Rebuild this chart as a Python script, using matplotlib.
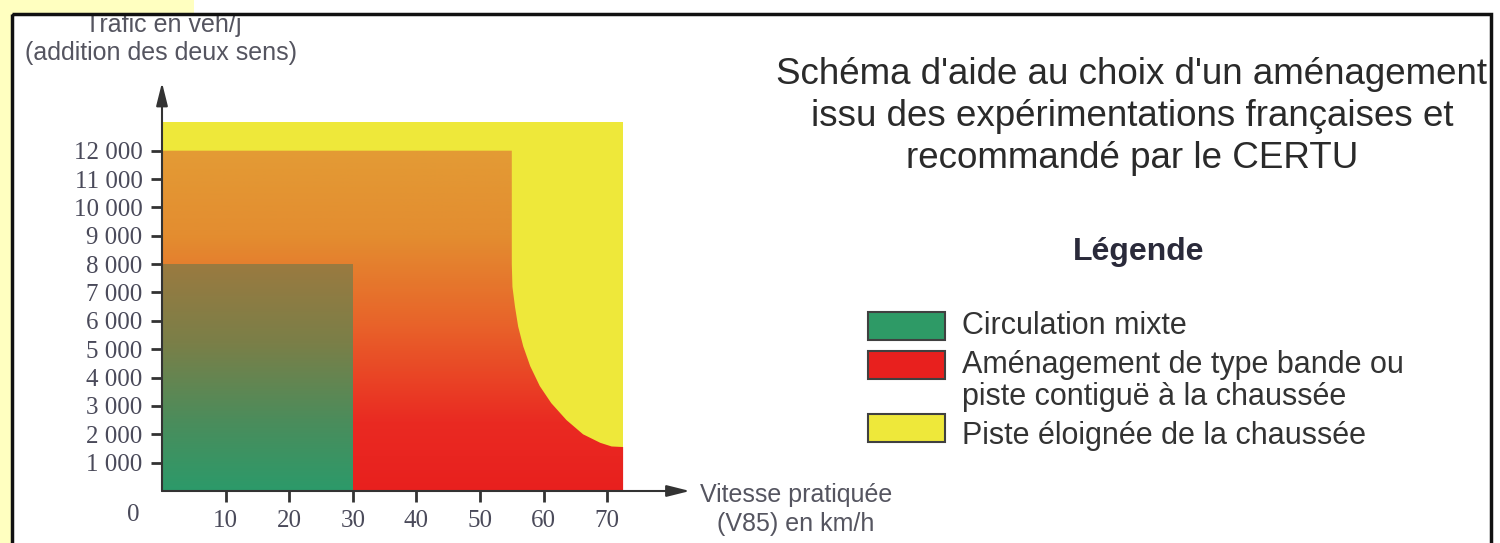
import matplotlib.pyplot as plt
import numpy as np
from matplotlib.colors import LinearSegmentedColormap
from matplotlib.patches import Rectangle, Polygon

# values
speed_ticks = [10, 20, 30, 40, 50, 60, 70]
traffic_ticks = [1000, 2000, 3000, 4000, 5000, 6000, 7000, 8000, 9000, 10000, 11000, 12000]
traffic_labels = ['1 000', '2 000', '3 000', '4 000', '5 000', '6 000', '7 000',
                  '8 000', '9 000', '10 000', '11 000', '12 000']

# yellow zone (piste eloignee)
yellow_speed = 72.5
yellow_traffic = 13000
# green zone (circulation mixte)
mixed_speed = 30
mixed_traffic = 8000
# boundary of the red/orange zone (bande ou piste contigue)
limit_speed = [0, 55, 55, 55.1, 55.5, 56.0, 56.8, 57.9, 59.4, 61.2, 63.6, 66.2, 68.9,
               70.7, 72.5, 72.5]
limit_traffic = [12000, 12000, 8000, 7200, 6500, 5800, 5100, 4400, 3700, 3100, 2500,
                 2000, 1700, 1570, 1550, 0]

legend_labels = ['Circulation mixte',
                 'Aménagement de type bande ou\npiste contiguë à la chaussée',
                 'Piste éloignée de la chaussée']
legend_colors = ['#2e9a66', '#e8201e', '#eee83a']

W, H = 1500, 543
fig = plt.figure(figsize=(15, 5.43), dpi=100)

# background / frame layer in pixel coords
bg = fig.add_axes([0, 0, 1, 1], zorder=0)
bg.set_xlim(0, W)
bg.set_ylim(H, 0)
bg.axis('off')
bg.add_patch(Rectangle((0, 0), 12, H, color='#ffffc0', lw=0))
bg.add_patch(Rectangle((0, 0), 194, 14, color='#ffffc0', lw=0))
inner = Rectangle((13, 15), 1477, H, fill=False, lw=0)
bg.add_patch(inner)
bg.add_patch(Rectangle((12, 14), 1479, H + 10, fill=False, ec='#111111', lw=2.5, zorder=10))

sans = 'Liberation Sans'
serif = 'Liberation Serif'
dark = '#2a2a2a'
grey = '#555560'

title_lines = ["Schéma d'aide au choix d'un aménagement",
               "issu des expérimentations françaises et",
               "recommandé par le CERTU"]
for line, yy in zip(title_lines, [75, 117, 158]):
    t = bg.text(1132, yy, line, ha='center', va='center', fontsize=26.5,
                family=sans, color=dark)
    t.set_clip_path(inner)

bg.text(1139, 252, 'Légende', ha='center', va='center', fontsize=23,
        family=sans, weight='bold', color='#2a2a3a')

patch_tops = [312, 351, 414]
text_y = [326, 381, 436]
for lab, col, top, yy in zip(legend_labels, legend_colors, patch_tops, text_y):
    bg.add_patch(Rectangle((868, top), 77, 28, fc=col, ec='#404040', lw=1.5))
    bg.text(962, yy, lab, ha='left', va='center', fontsize=22, family=sans,
            color='#333333', linespacing=1.08)

t1 = bg.text(163, 25, 'Trafic en veh/j', ha='center', va='center', fontsize=18,
             family=sans, color=grey)
t1.set_clip_path(inner)
bg.text(161, 53, '(addition des deux sens)', ha='center', va='center', fontsize=18,
        family=sans, color=grey)
bg.text(796, 495, 'Vitesse pratiquée', ha='center', va='center', fontsize=18,
        family=sans, color=grey)
bg.text(796, 524, '(V85) en km/h', ha='center', va='center', fontsize=18,
        family=sans, color=grey)

# main chart axes: x 0 at px 162, 6.36 px per km/h; y 0 at px 491, 28.36 px per 1000
x_max, y_max = 83, 14400
left = 162 / W
bottom = (H - 491) / H
ax = fig.add_axes([left, bottom, x_max * 6.36 / W, y_max / 1000 * 28.36 / H], zorder=1)
ax.patch.set_alpha(0)
for s in ax.spines.values():
    s.set_visible(False)

ax.add_patch(Rectangle((0, 0), yellow_speed, yellow_traffic, color='#eee83a', lw=0, zorder=1))

grad = np.linspace(0, 1, 256).reshape(-1, 1)
red_cmap = LinearSegmentedColormap.from_list('red', [
    (0, '#e8201e'), (0.2, '#ea2a22'), (0.5, '#e8652a'), (0.75, '#e38d30'), (1, '#e39b35')])
img = ax.imshow(grad, cmap=red_cmap, origin='lower', aspect='auto',
                extent=(0, yellow_speed, 0, 12000), zorder=2)
zone = Polygon(np.column_stack([[0] + limit_speed, [0] + limit_traffic]),
               closed=True, transform=ax.transData, fc='none', lw=0)
ax.add_patch(zone)
img.set_clip_path(zone)

green_cmap = LinearSegmentedColormap.from_list('green', [
    (0, '#2c9a6a'), (0.3, '#4a8d5c'), (0.65, '#7a7f48'), (1, '#9a7a40')])
ax.imshow(grad, cmap=green_cmap, origin='lower', aspect='auto',
          extent=(0, mixed_speed, 0, mixed_traffic), zorder=3)
ax.set_xlim(0, x_max)
ax.set_ylim(0, y_max)

# axes arrows
arrow = dict(arrowstyle='-|>,head_length=1.4,head_width=0.35', color='#333333',
             lw=1.5, shrinkA=0, shrinkB=0)
ax.annotate('', xy=(x_max, 0), xytext=(0, 0), annotation_clip=False,
            arrowprops=arrow, zorder=5)
ax.annotate('', xy=(0, y_max), xytext=(0, 0), annotation_clip=False,
            arrowprops=arrow, zorder=5)

ax.set_xticks(speed_ticks)
ax.set_xticklabels([str(v) for v in speed_ticks])
ax.set_yticks(traffic_ticks)
ax.set_yticklabels(traffic_labels)
ax.tick_params(axis='both', direction='out', length=8, width=2, color='#333333',
               labelcolor='#4a4a5a', labelsize=18, pad=6)
for lab in ax.get_xticklabels() + ax.get_yticklabels():
    lab.set_family(serif)
bg.text(133, 515, '0', ha='center', va='center', fontsize=18, family=serif,
        color='#4a4a5a')

fig.savefig('out.png', dpi=100)
